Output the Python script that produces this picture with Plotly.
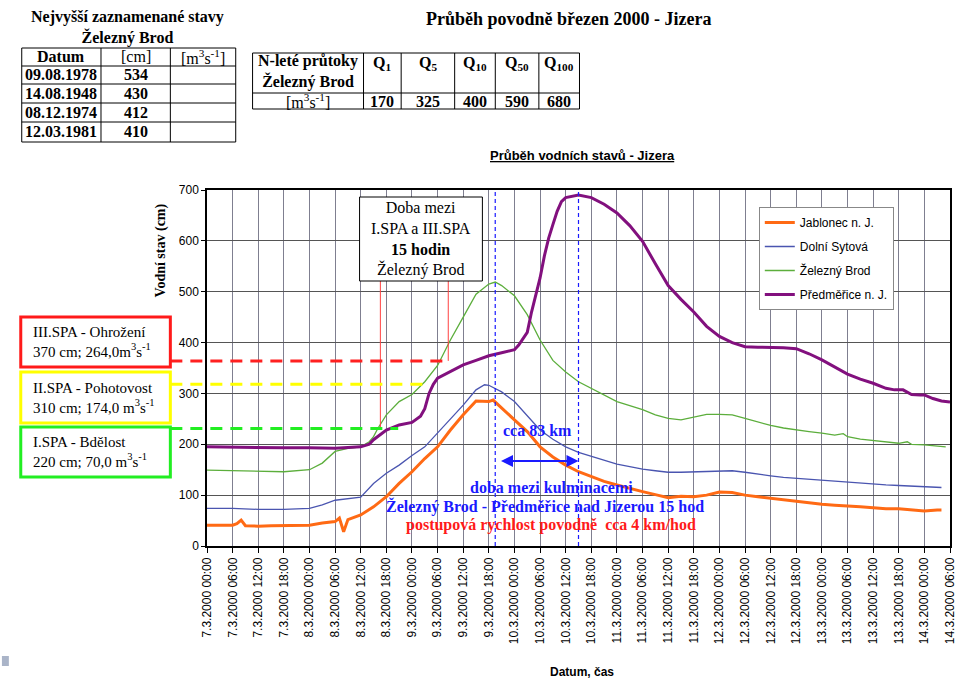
import pandas as pd
import plotly.graph_objects as go

# --- data (hours from 7.3.2000 00:00, water level in cm) ---
jablonec_h = [0, 3, 6, 7, 8, 9, 12, 15, 18, 21, 24, 27, 30, 31, 32, 33, 36, 39, 42, 45, 48, 51, 54, 57,
              60, 63, 66, 67, 69, 72, 75, 78, 81, 84, 87, 90, 93, 96, 99, 102, 105, 108, 111, 114, 117,
              120, 123, 126, 129, 132, 135, 138, 141, 144, 147, 150, 153, 156, 159, 162, 165, 168, 171, 172]
jablonec_v = [41, 41, 41, 44, 51, 40, 39, 40, 40, 40, 41, 45, 48, 55, 28, 52, 61, 77, 97, 123, 146, 172, 195, 228,
              258, 285, 284, 287, 272, 248, 225, 195, 175, 159, 146, 136, 127, 120, 113, 107, 101, 95, 98, 97, 100,
              106, 105, 100, 97, 94, 90, 87, 84, 82, 80, 79, 77, 75, 73, 73, 71, 69, 71, 71]

sytova_h = [0, 6, 12, 18, 24, 27, 30, 33, 36, 39, 42, 45, 48, 51, 54, 57, 60, 63, 65, 66, 69, 72, 75, 78,
            81, 84, 87, 90, 93, 96, 99, 102, 105, 108, 111, 114, 117, 120, 123, 126, 129, 132, 135, 138,
            141, 144, 147, 150, 153, 156, 159, 162, 165, 168, 172]
sytova_v = [74, 74, 72, 72, 74, 81, 90, 93, 96, 123, 143, 159, 178, 195, 222, 250, 277, 307, 317, 316, 303, 284, 257, 228,
            210, 195, 184, 176, 168, 161, 156, 151, 148, 145, 145, 146, 147, 148, 148, 145, 141, 138, 135, 133,
            131, 129, 127, 125, 123, 121, 120, 119, 118, 117, 115]

zb_h = [0, 6, 12, 18, 24, 27, 30, 33, 36, 38, 39, 40, 42, 45, 48, 51, 54, 57, 60, 63, 66, 67.5, 69, 72, 75,
        78, 81, 84, 87, 90, 93, 96, 99, 102, 105, 108, 111, 114, 117, 120, 123, 126, 129, 132, 135, 138,
        141, 144, 147, 149, 150, 153, 156, 159, 162, 164, 165, 168, 173]
zb_v = [149, 148, 146, 146, 150, 163, 186, 192, 195, 205, 215, 231, 258, 284, 298, 323, 355, 405, 450, 495, 515, 519, 512, 492, 455,
        405, 365, 342, 323, 310, 296, 284, 276, 268, 258, 251, 248, 254, 259, 259, 258, 251, 244, 237, 232, 228,
        225, 222, 218, 221, 215, 210, 207, 205, 202, 205, 200, 199, 195]

predm_h = [0, 6, 12, 18, 24, 30, 36, 38, 39, 42, 45, 48, 50, 51, 52, 53, 54, 57, 60, 63, 66, 69, 72, 73, 75,
           76, 77, 78, 79, 80, 81, 82, 83, 84, 87, 90, 93, 96, 99, 102, 105, 108, 111, 114, 117, 120, 123, 126,
           129, 132, 135, 138, 141, 144, 147, 150, 153, 156, 159, 161, 163, 165, 167, 168, 170, 172, 174]
predm_v = [195, 194, 193, 193, 193, 192, 195, 200, 209, 228, 238, 243, 255, 270, 300, 318, 330, 343, 356, 365, 374, 380, 386, 395, 420,
           460, 495, 527, 570, 605, 632, 658, 677, 685, 690, 685, 672, 655, 630, 599, 555, 512, 485, 460, 432, 412, 400, 392,
           391, 391, 390, 388, 378, 366, 352, 338, 328, 320, 310, 307, 307, 298, 297, 297, 290, 285, 283]

series_names = ["Jablonec n. J.", "Dolní Sytová", "Železný Brod", "Předměřice n. J."]
series_colors = ["#ff6a14", "#4a55b0", "#5cae3c", "#82107e"]
series_widths = [3, 1.3, 1.3, 3]

# levels of the SPA dashed lines and times of the marker lines (hours)
spa_levels = [364, 318, 231]
spa_colors = ["#ff2020", "#ffff00", "#22ee22"]
spa_ends = [448, 430, 400]          # right end of dashed lines, px
spa_cross_h = [40.6, 56.5]          # red thin vertical lines (I.SPA, III.SPA)
spa_cross_v = [231, 364]
kulm_h = [67.5, 87.0]               # blue dashed lines - culminations

base = pd.Timestamp("2000-03-07 00:00")
def t(h):
    return base + pd.Timedelta(hours=h)

# plot area in pixels
L, R, T, B = 207, 957, 190, 546
def px(x):
    return (x - L) / (R - L)
def py(y):
    return (B - y) / (B - T)

SERIF = "Liberation Serif"
SANS = "Liberation Sans"

fig = go.Figure()
data = [(jablonec_h, jablonec_v), (sytova_h, sytova_v), (zb_h, zb_v), (predm_h, predm_v)]
for i, (hh, vv) in enumerate(data):
    fig.add_trace(go.Scatter(
        x=[t(h) for h in hh], y=vv, mode="lines", name=series_names[i],
        line=dict(color=series_colors[i], width=series_widths[i]),
        legendgroup=str(i)
    ))

shapes = []
ann = []

def text_at(x, y, txt, family=SERIF, size=16, color="black", **kw):
    d = dict(xref="paper", yref="paper", x=px(x), y=py(y), text=txt, showarrow=False,
             xanchor="center", yanchor="middle", font=dict(family=family, size=size, color=color))
    d.update(kw)
    return d

# blue dashed lines of culminations
for h in kulm_h:
    shapes.append(dict(type="line", xref="x", yref="paper", x0=t(h), x1=t(h), y0=0, y1=1,
                       line=dict(color="#1a1aff", width=1.2, dash="4px,3px")))

# red thin vertical lines from the box down to the levels
for h, v in zip(spa_cross_h, spa_cross_v):
    shapes.append(dict(type="line", xref="x", yref="paper", x0=t(h), x1=t(h), y0=py(546 - v * 0.5086), y1=py(281),
                       line=dict(color="#ff4040", width=1)))

# SPA dashed lines
for lev, col, xe in zip(spa_levels, spa_colors, spa_ends):
    shapes.append(dict(type="line", xref="paper", yref="y", x0=px(170), x1=px(xe), y0=lev, y1=lev,
                       line=dict(color=col, width=3, dash="12px,8px")))

# left SPA boxes
spa_boxes = [
    (317, 367, "#ff1a1a", "III.SPA - Ohrožení<br>370 cm; 264,0m<sup>3</sup>s<sup>-1</sup>"),
    (372, 423, "#ffff00", "II.SPA - Pohotovost<br>310 cm; 174,0 m<sup>3</sup>s<sup>-1</sup>"),
    (427, 477, "#22ee22", "I.SPA - Bdělost<br>220 cm; 70,0 m<sup>3</sup>s<sup>-1</sup>"),
]
for y0, y1, col, txt in spa_boxes:
    shapes.append(dict(type="rect", xref="paper", yref="paper", x0=px(19), x1=px(170), y0=py(y0), y1=py(y1),
                       line=dict(color=col, width=3), fillcolor="white"))
    ann.append(text_at(29, (y0 + y1) / 2, txt, size=15, xanchor="left", align="left"))

# box "Doba mezi ..."
shapes.append(dict(type="rect", xref="paper", yref="paper", x0=px(361), x1=px(485), y0=py(197), y1=py(281),
                   line=dict(color="black", width=1), fillcolor="white"))
ann.append(text_at(423, 239, "Doba mezi<br>I.SPA a III.SPA<br><b>15 hodin</b><br>Železný Brod"))

# arrow between culminations
ann.append(dict(x=t(kulm_h[1]), y=167, ax=t(68.5), ay=167, xref="x", yref="y", axref="x", ayref="y",
                text="", showarrow=True, arrowhead=2, arrowside="end+start", arrowsize=1.2, arrowwidth=2,
                arrowcolor="#1a1aff"))
ann.append(text_at(541, 430, "<b>cca 83 km</b>", color="#1a1aff"))
ann.append(text_at(555, 487, "<b>doba mezi kulminacemi</b>", color="#1a1aff"))
ann.append(text_at(548, 506, "<b>Železný Brod - Předměřice nad Jizerou 15 hod</b>", color="#1a1aff"))
ann.append(text_at(554, 525, "<b>postupová rychlost povodně  cca 4 km/hod</b>", color="#ff1a1a"))

# --- tables at the top ---
def table_lines(cols, rows):
    out = [dict(type="rect", xref="paper", yref="paper", x0=px(cols[0]), x1=px(cols[-1]),
                y0=py(rows[0]), y1=py(rows[-1]), line=dict(color="black", width=1))]
    for c in cols[1:-1]:
        out.append(dict(type="line", xref="paper", yref="paper", x0=px(c), x1=px(c), y0=py(rows[0]), y1=py(rows[-1]),
                        line=dict(color="black", width=1)))
    for r in rows[1:-1]:
        out.append(dict(type="line", xref="paper", yref="paper", x0=px(cols[0]), x1=px(cols[-1]), y0=py(r), y1=py(r),
                        line=dict(color="black", width=1)))
    return out

rec_dates = ["09.08.1978", "14.08.1948", "08.12.1974", "12.03.1981"]
rec_levels = [534, 430, 412, 410]
t1_cols = [20, 100, 170, 236]
t1_rows = [48, 66, 84, 103, 122, 142]
shapes += table_lines(t1_cols, t1_rows)
ann.append(text_at(127, 27, "<b>Nejvyšší zaznamenané stavy<br>Železný Brod</b>"))
ann.append(text_at(60, 57, "<b>Datum</b>"))
ann.append(text_at(135, 57, "[cm]"))
ann.append(text_at(203, 57, "[m<sup>3</sup>s<sup>-1</sup>]"))
for i, (d, lv) in enumerate(zip(rec_dates, rec_levels)):
    yc = (t1_rows[i + 1] + t1_rows[i + 2]) / 2
    ann.append(text_at(60, yc, "<b>%s</b>" % d))
    ann.append(text_at(135, yc, "<b>%d</b>" % lv))

q_names = ["Q<sub>1</sub>", "Q<sub>5</sub>", "Q<sub>10</sub>", "Q<sub>50</sub>", "Q<sub>100</sub>"]
q_values = [170, 325, 400, 590, 680]
t2_cols = [253, 365, 403, 457, 498, 542, 583]
t2_rows = [53, 93, 109]
shapes += table_lines(t2_cols, t2_rows)
ann.append(text_at(309, 72, "<b>N-leté průtoky<br>Železný Brod</b>"))
ann.append(text_at(309, 101, "[m<sup>3</sup>s<sup>-1</sup>]"))
for i, (qn, qv) in enumerate(zip(q_names, q_values)):
    xc = (t2_cols[i + 1] + t2_cols[i + 2]) / 2
    ann.append(text_at(xc, 64, "<b>%s</b>" % qn))
    ann.append(text_at(xc, 101, "<b>%d</b>" % qv))

ann.append(text_at(572, 19, "<b>Průběh povodně březen 2000 - Jizera</b>", size=18))
ann.append(text_at(586, 155, "<b><u>Průběh vodních stavů - Jizera</u></b>", family=SANS, size=13))
ann.append(text_at(161, 250, "<b>Vodní stav (cm)</b>", family=SERIF, size=14, textangle=-90))
ann.append(text_at(586, 672, "<b>Datum, čas</b>", family=SANS, size=12))

# small grey square bottom left
shapes.append(dict(type="rect", xref="paper", yref="paper", x0=px(0), x1=px(7), y0=py(656), y1=py(666),
                   line=dict(width=0), fillcolor="#aab4c8"))

fig.update_layout(
    width=968, height=682,
    margin=dict(l=L, r=968 - R, t=T, b=682 - B),
    paper_bgcolor="white", plot_bgcolor="white",
    font=dict(family=SANS, size=12, color="black"),
    showlegend=True,
    legend=dict(x=px(764), y=py(207), xanchor="left", yanchor="top", bgcolor="white",
                bordercolor="#888", borderwidth=1, traceorder="grouped", tracegroupgap=5,
                font=dict(family=SANS, size=12)),
    shapes=shapes,
    annotations=ann,
)
fig.update_xaxes(
    type="date", range=[t(0), t(174)], tick0=t(0), dtick=6 * 3600 * 1000,
    tickformat="%-d.%-m.%Y %H:%M", tickangle=-90, ticks="outside", ticklen=5, tickcolor="black",
    showgrid=True, gridcolor="#7f7f90", gridwidth=1, showline=True, linecolor="black", linewidth=1.5,
    mirror=True, tickfont=dict(family=SANS, size=12), zeroline=False
)
fig.update_yaxes(
    range=[0, 700], dtick=100, ticks="outside", ticklen=4, tickcolor="black",
    showgrid=True, gridcolor="#555", gridwidth=1, showline=True, linecolor="black", linewidth=1.5,
    mirror=True, tickfont=dict(family=SANS, size=12), zeroline=False
)

# page without the default body margin so the figure starts at the window corner
fig.write_html("out.html", config={"displayModeBar": False},
               post_script="document.body.style.margin='0';")
